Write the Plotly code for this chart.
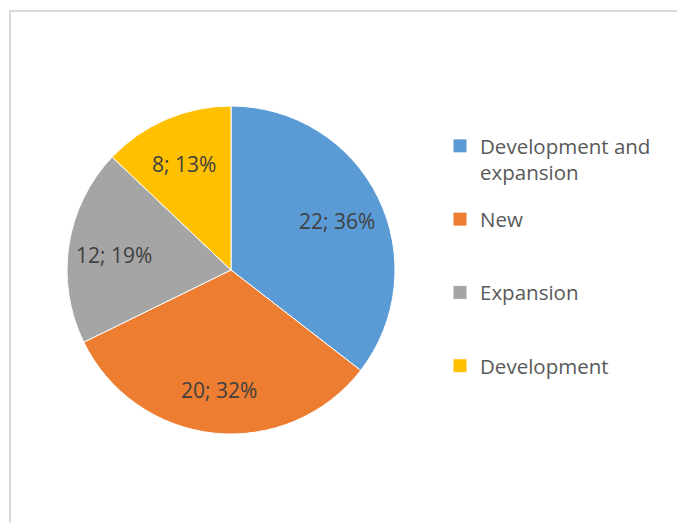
import math
import plotly.graph_objects as go

categories = ["Development and<br>expansion", "New", "Expansion", "Development"]
counts = [22, 20, 12, 8]
pct_labels = ["36%", "32%", "19%", "13%"]
colors = ["#5B9BD5", "#ED7D31", "#A5A5A5", "#FFC000"]

W, H = 677, 523
FONT = "Open Sans"

# pie geometry (px)
CX, CY, R = 231, 270, 164
LABEL_FRAC = 0.72


def px(x):
    return x / W


def py(y):
    return 1 - y / H


fig = go.Figure()
fig.add_trace(go.Pie(
    labels=categories,
    values=counts,
    textinfo="none",
    marker=dict(colors=colors, line=dict(color="white", width=1)),
    sort=False,
    direction="clockwise",
    rotation=0,
    showlegend=False,
    domain=dict(x=[px(CX - R), px(CX + R)], y=[py(CY + R), py(CY - R)]),
    hoverinfo="label+value",
))

# legend entries (one group per category so gaps are even)
for cat, col in zip(categories, colors):
    n = cat.count("<br>") + 1
    lbl = cat + "<br>\u00a0" * (2 - n)
    fig.add_trace(go.Scatter(
        x=[None], y=[None], mode="markers",
        marker=dict(symbol="square", size=13, color=col),
        name=lbl, legendgroup=cat, showlegend=True, hoverinfo="skip",
    ))

# data labels "value; pct" at the middle angle of each slice
total = sum(counts)
cum = 0
annotations = []
for v, p in zip(counts, pct_labels):
    theta = 2 * math.pi * (cum + v / 2) / total
    cum += v
    lx = CX + R * LABEL_FRAC * math.sin(theta)
    ly = CY - R * LABEL_FRAC * math.cos(theta)
    annotations.append(dict(
        x=px(lx), y=py(ly), xref="paper", yref="paper",
        text=f"{v}; {p}", showarrow=False,
        xanchor="center", yanchor="middle", yshift=-3,
        font=dict(family=FONT, size=21, color="#404040"),
    ))

frame = dict(color="#D9D9D9", width=2)
fig.update_layout(
    width=W, height=H,
    margin=dict(l=0, r=0, t=0, b=0, autoexpand=False),
    paper_bgcolor="white",
    plot_bgcolor="white",
    xaxis=dict(visible=False),
    yaxis=dict(visible=False),
    showlegend=True,
    legend=dict(
        x=px(440), y=py(126), xanchor="left", yanchor="top",
        font=dict(family=FONT, size=20.5, color="#595959"),
        valign="top",
        traceorder="grouped",
        tracegroupgap=17,
        bgcolor="rgba(0,0,0,0)",
    ),
    annotations=annotations,
    shapes=[
        dict(type="line", xref="paper", yref="paper",
             x0=px(10), x1=1.0, y0=py(11), y1=py(11), line=frame, layer="below"),
        dict(type="line", xref="paper", yref="paper",
             x0=px(10), x1=px(10), y0=0, y1=py(11) + 1 / H, line=frame, layer="below"),
    ],
)

fig.write_html(
    "out.html",
    config={"displayModeBar": False},
    post_script=(
        "document.body.style.margin='0';"
        "document.body.style.overflow='hidden';"
        "document.documentElement.style.overflow='hidden';"
    ),
)
